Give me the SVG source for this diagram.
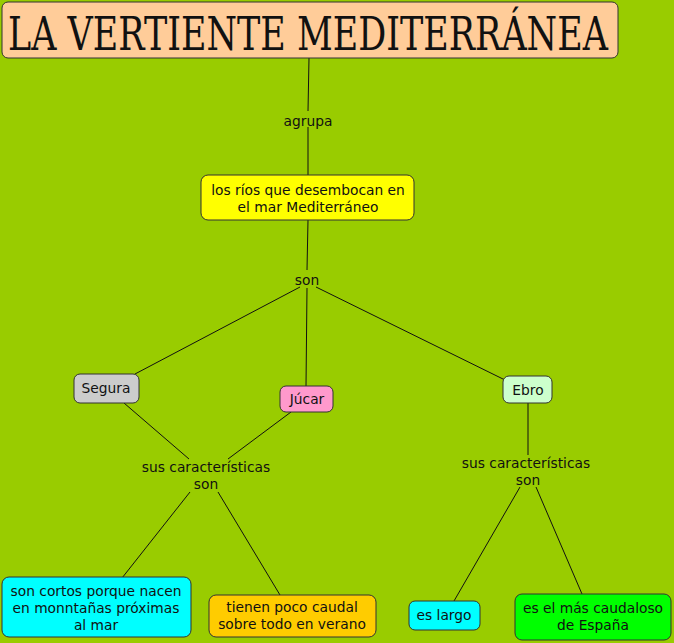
<svg xmlns="http://www.w3.org/2000/svg" width="674" height="643" viewBox="0 0 674 643">
<style>
.bg{fill:#99CC00}
.n{stroke:#333;stroke-width:1}
.t{font-family:"DejaVu Sans",Verdana,sans-serif;font-size:13.8px;fill:#111;text-anchor:middle}
.c line{stroke:#111;stroke-width:1}
</style>
<rect class="bg" x="0" y="0" width="674" height="643"/>
<g class="c" id="connectors">
<line x1="309" y1="58" x2="308" y2="111"/>
<line x1="308" y1="127" x2="308" y2="175"/>
<line x1="308" y1="220" x2="307" y2="270"/>
<line x1="300" y1="287" x2="135" y2="374"/>
<line x1="307" y1="288" x2="306" y2="386"/>
<line x1="316" y1="287" x2="505" y2="380"/>
<line x1="124" y1="403" x2="189" y2="459"/>
<line x1="291" y1="412" x2="228" y2="459"/>
<line x1="190" y1="492" x2="122" y2="578"/>
<line x1="218" y1="492" x2="280" y2="595"/>
<line x1="528" y1="403" x2="528" y2="455"/>
<line x1="520" y1="487" x2="454" y2="601"/>
<line x1="536" y1="487" x2="582" y2="594"/>
</g>
<g id="title"><rect class="n" x="2" y="2" width="616" height="56" rx="6" fill="#FFCC99"/>
<text transform="translate(8,50) scale(0.7,1)" x="0" y="0" font-family="'DejaVu Serif',serif" font-size="47" fill="#111" textLength="857" lengthAdjust="spacingAndGlyphs">LA VERTIENTE MEDITERRÁNEA</text></g>
<g id="l-agrupa"><text class="t" x="308" y="126">agrupa</text></g>
<g id="rios"><rect class="n" x="201" y="175" width="213" height="45" rx="7" fill="#FFFF00"/>
<text class="t" x="308" y="195">los ríos que desembocan en</text><text class="t" x="308" y="212">el mar Mediterráneo</text></g>
<g id="l-son"><text class="t" x="307" y="285">son</text></g>
<g id="segura"><rect class="n" x="74" y="374" width="65" height="29" rx="6" fill="#CCCCCC"/><text class="t" x="106" y="393">Segura</text></g>
<g id="jucar"><rect class="n" x="280" y="386" width="53" height="26" rx="6" fill="#FF99CC"/><text class="t" x="307" y="404">Júcar</text></g>
<g id="ebro"><rect class="n" x="503" y="376" width="49" height="27" rx="6" fill="#CCFFCC"/><text class="t" x="528" y="395">Ebro</text></g>
<g id="l-car1"><text class="t" x="206" y="472">sus características</text><text class="t" x="206" y="489">son</text></g>
<g id="l-car2"><text class="t" x="526" y="468">sus características</text><text class="t" x="528" y="485">son</text></g>
<g id="cortos"><rect class="n" x="2" y="577" width="189" height="60" rx="7" fill="#00FFFF"/>
<text class="t" x="96" y="596">son cortos porque nacen</text><text class="t" x="96" y="613">en monntañas próximas</text><text class="t" x="96" y="630">al mar</text></g>
<g id="poco"><rect class="n" x="209" y="595" width="167" height="42" rx="7" fill="#FFCC00"/>
<text class="t" x="292" y="612">tienen poco caudal</text><text class="t" x="292" y="629">sobre todo en verano</text></g>
<g id="largo"><rect class="n" x="409" y="601" width="71" height="29" rx="6" fill="#00FFFF"/><text class="t" x="444" y="620">es largo</text></g>
<g id="caudaloso"><rect class="n" x="515" y="594" width="156" height="46" rx="7" fill="#00FF00"/>
<text class="t" x="593" y="613">es el más caudaloso</text><text class="t" x="593" y="630">de España</text></g>
</svg>
